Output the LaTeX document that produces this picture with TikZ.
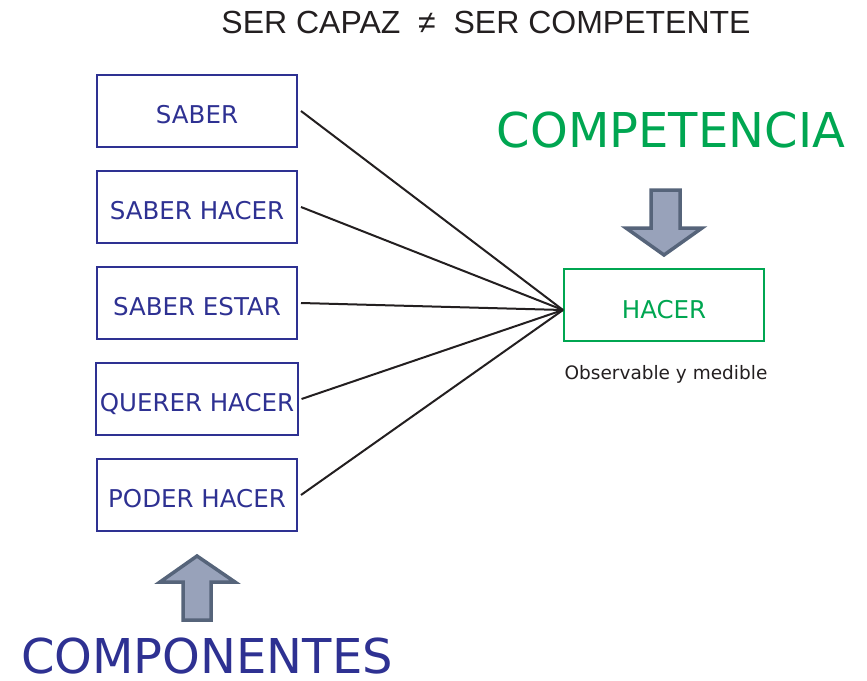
\documentclass[tikz,border=0pt]{standalone}
\usepackage{fontspec}
\setmainfont{DejaVu Sans}
\newfontfamily\titlefont{Liberation Sans}
\usepackage{tikz}
\usetikzlibrary{positioning}

\definecolor{navyblue}{HTML}{2E3192}
\definecolor{compgreen}{HTML}{00A651}
\definecolor{arrowfill}{HTML}{98A2BA}
\definecolor{arrowline}{HTML}{56647A}
\definecolor{inkblack}{HTML}{231F20}

\begin{document}
\begin{tikzpicture}[
    x=1pt, y=-1pt,
    node distance=22pt,
    comp/.style={rectangle, draw=navyblue, line width=2pt, minimum width=200pt, minimum height=72pt, text height=25.5pt, text depth=0pt, align=center, text=navyblue, font=\fontsize{24.5}{28}\selectfont},
    target/.style={rectangle, draw=compgreen, line width=2pt, minimum width=200pt, minimum height=72pt, text height=26pt, text depth=0pt, align=center, text=compgreen, font=\fontsize{24.5}{28}\selectfont},
    bigword/.style={font=\fontsize{48}{56}\selectfont},
    link/.style={draw=inkblack, line width=2pt},
    fatarrow/.style={fill=arrowfill, draw=arrowline, line width=3.5pt, line join=miter},
]
\useasboundingbox (0,0) rectangle (867,680);

% ---- title ----
\node[font=\titlefont\fontsize{32}{36}\selectfont, text=inkblack] (title) at (486, 22) {SER CAPAZ \ ≠ \ SER COMPETENTE};

% ---- components ----
\node[comp] (saber) at (197, 111) {SABER};
\node[comp, below=of saber] (hacer1) {SABER HACER};
\node[comp, below=of hacer1] (estar) {SABER ESTAR};
\node[comp, below=of estar] (querer) {QUERER HACER};
\node[comp, below=of querer] (poder) {PODER HACER};

% ---- competence ----
\node[target] (hacer) at (664, 305) {HACER};
\node[font=\fontsize{18.5}{22}\selectfont, text=inkblack] (medible) at (666, 374) {Observable y medible};
\node[bigword, text=compgreen] (competencia) at (671, 130) {COMPETENCIA};
\node[bigword, text=navyblue] (componentes) at (207, 656) {COMPONENTES};

% ---- links ----
\coordinate (meet) at ([yshift=-5pt]hacer.west);
\foreach \n in {saber, hacer1, estar, querer, poder}
  \draw[link] ([xshift=3pt]\n.east) -- (meet);

% ---- big arrows ----
\draw[fatarrow] (651,190) -- (680,190) -- (680,228) -- (702,228) -- (664,255) -- (626,228) -- (651,228) -- cycle;
\draw[fatarrow] (183,620) -- (211,620) -- (211,582) -- (235,582) -- (197,556) -- (160,582) -- (183,582) -- cycle;

\end{tikzpicture}
\end{document}
